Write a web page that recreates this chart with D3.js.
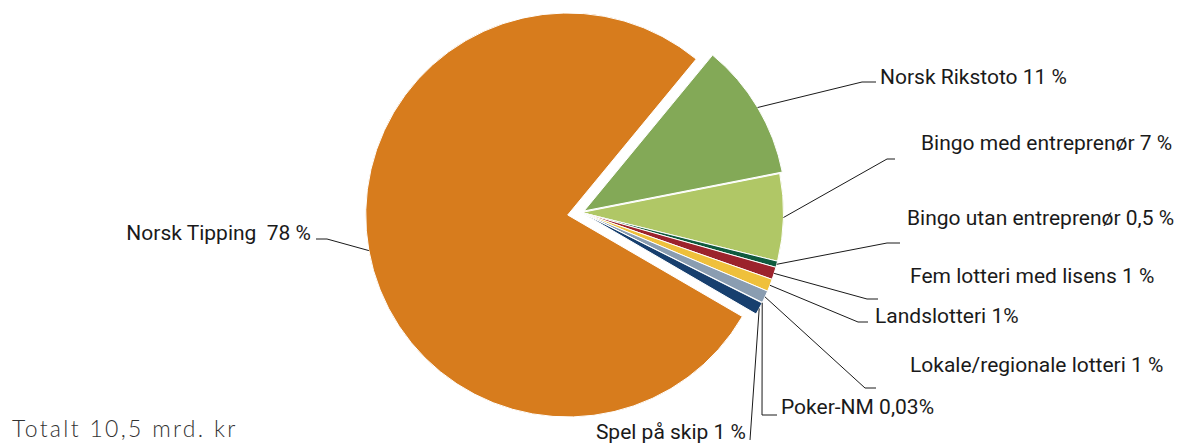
<!DOCTYPE html>
<meta charset="utf-8">
<style>
  body { margin: 0; background: #fff; }
  .label { font-family: Roboto, "Noto Sans", sans-serif; font-size: 21px; fill: #1a1a1a; white-space: pre; }
  .leader { fill: none; stroke: #1a1a1a; stroke-width: 1px; }
  .total { font-family: Lato, sans-serif; font-weight: 300; font-size: 23px; letter-spacing: 2.3px; fill: #333; }
</style>
<svg width="1186" height="447"></svg>
<script src="https://d3js.org/d3.v7.min.js"></script>
<script>

// clockwise, starting with Norsk Rikstoto
var categories = ["Norsk Rikstoto", "Bingo med entreprenør", "Bingo utan entreprenør",
    "Fem lotteri med lisens", "Landslotteri", "Lokale/regionale lotteri",
    "Poker-NM", "Spel på skip", "Norsk Tipping"];
var shares = [11, 7, 0.5, 1, 1, 1, 0.03, 1, 78];
var labels = ["Norsk Rikstoto 11 %", "Bingo med entreprenør 7 %", "Bingo utan entreprenør 0,5 %",
    "Fem lotteri med lisens 1 %", "Landslotteri 1%", "Lokale/regionale lotteri 1 %",
    "Poker-NM 0,03%", "Spel på skip 1 %", "Norsk Tipping  78 %"];
var totalText = "Totalt 10,5 mrd. kr";

var colors = ["#83a957", "#b0c766", "#0f5a3e", "#9c232c", "#efc03b", "#8a9db1", "#5a6f8a", "#173f6e", "#d77c1d"];
var explode = [3, 0, 0, 0, 0, 0, 0, 0, 14];

// label layout: elbow point, end of horizontal tick, text anchor point
var layout = [
  {elbow: [862, 82],  end: [876, 82],  text: [880, 84], anchor: "start"},
  {elbow: [887, 159], end: [895, 159], text: [921, 150], anchor: "start"},
  {elbow: [887, 243], end: [900, 243], text: [907, 225], anchor: "start"},
  {elbow: [867, 299], end: [878, 299], text: [910, 283], anchor: "start"},
  {elbow: [858, 322], end: [868, 322], text: [875, 323], anchor: "start"},
  {elbow: [865, 388], end: [876, 388], text: [910, 372], anchor: "start"},
  {elbow: [762, 415], end: [777, 415], text: [781, 414], anchor: "start"},
  {elbow: [750, 440], end: [750, 440], text: [746, 439], anchor: "end"},
  {elbow: [327, 239], end: [316, 239], text: [311, 240], anchor: "end"}
];

var svg = d3.select("svg"),
    cx = 581.5, cy = 212.5,
    radius = 202;

var pie = d3.pie()
    .sort(null)
    .value(function(d) { return d; })
    .startAngle(39.5 * Math.PI / 180)
    .endAngle(39.5 * Math.PI / 180 + 2 * Math.PI);

var arc = d3.arc().innerRadius(0).outerRadius(radius);

var arcs = pie(shares);

var g = svg.append("g").attr("transform", "translate(" + cx + "," + cy + ")");

g.selectAll("path.slice")
  .data(arcs)
  .enter().append("path")
    .attr("class", "slice")
    .attr("d", arc)
    .attr("fill", function(d, i) { return colors[i]; })
    .attr("stroke", "#fff")
    .attr("stroke-width", 1)
    .attr("transform", function(d, i) {
      var a = (d.startAngle + d.endAngle) / 2;
      return "translate(" + (Math.sin(a) * explode[i]) + "," + (-Math.cos(a) * explode[i]) + ")";
    });

// leader lines start on the rim at each slice's mid angle
arcs.forEach(function(d, i) {
  var a = (d.startAngle + d.endAngle) / 2,
      r = radius + explode[i],
      p0 = [cx + Math.sin(a) * r, cy - Math.cos(a) * r],
      L = layout[i];
  svg.append("path")
      .attr("class", "leader")
      .attr("d", d3.line()([p0, L.elbow, L.end]));
  svg.append("text")
      .attr("class", "label")
      .attr("x", L.text[0])
      .attr("y", L.text[1])
      .attr("text-anchor", L.anchor)
      .text(labels[i]);
});

svg.append("text")
    .attr("class", "total")
    .attr("x", 12)
    .attr("y", 437)
    .text(totalText);

</script>
